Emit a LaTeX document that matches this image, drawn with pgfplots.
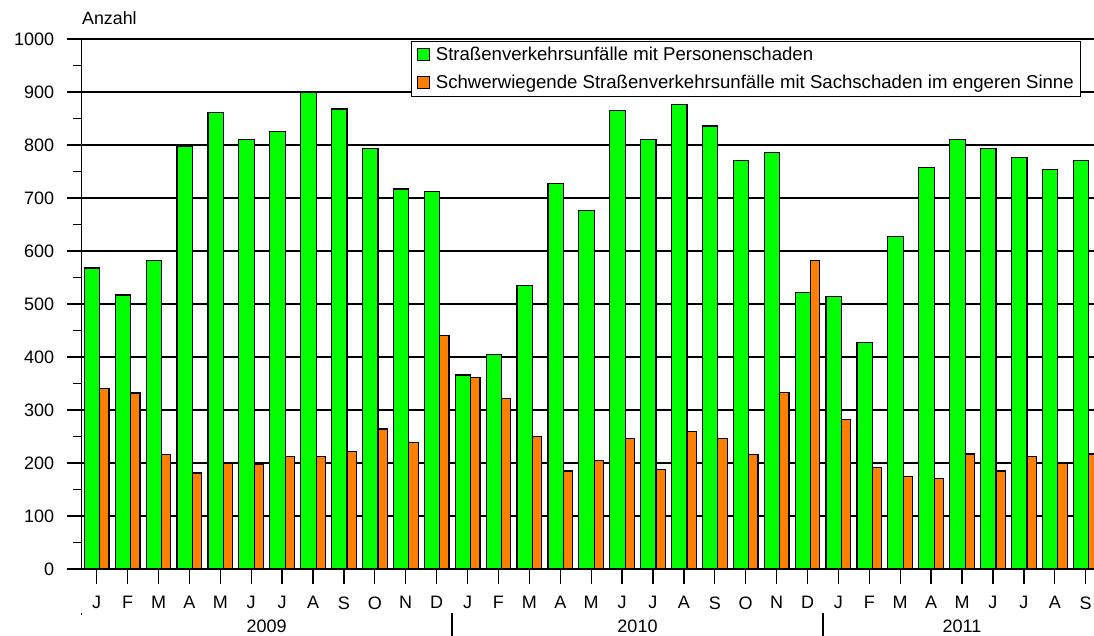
\documentclass[border=0pt]{standalone}
\usepackage{pgfplots}
\usepackage{pgfplotstable}
\pgfplotsset{compat=1.18}
\usepackage{fontspec}
\setmainfont{Liberation Sans}
\definecolor{mygreen}{RGB}{0,255,0}
\definecolor{myorange}{RGB}{255,128,0}
\pgfplotstableread{
x g o
0 568 340
1 517 332
2 582 216
3 797 181
4 862 199
5 810 197
6 825 213
7 900 213
8 868 221
9 793 264
10 717 239
11 713 441
12 366 362
13 405 321
14 535 250
15 728 185
16 677 205
17 865 246
18 811 188
19 876 260
20 836 246
21 771 216
22 786 333
23 521 582
24 514 282
25 427 192
26 627 175
27 757 171
28 811 217
29 793 185
30 776 212
31 754 199
32 771 217
}\data
\begin{document}
\begin{tikzpicture}[x=1pt,y=1pt]
\begin{axis}[
  at={(81.7pt,67pt)}, anchor=south west,
  scale only axis, width=1012.3pt, height=530pt,
  xmin=-0.485, xmax=32.27, ymin=0, ymax=1000,
  axis lines=left,
  axis line style={-, line width=1.5pt},
  ytick={0,100,...,1000},
  minor ytick={50,150,...,950},
  ymajorgrids,
  grid style={black, line width=1.3pt},
  tick align=outside,
  major tick length=15pt, minor tick length=9pt,
  tick style={black, line width=1.3pt},
  xtick={0,...,32},
  xticklabels={J,F,M,A,M,J,J,A,S,O,N,D,J,F,M,A,M,J,J,A,S,O,N,D,J,F,M,A,M,J,J,A,S},
  /pgf/number format/assume math mode=true,
  /pgf/number format/1000 sep={},
  yticklabel style={font=\fontsize{18}{21}\selectfont, xshift=-9pt},
  xticklabel style={font=\fontsize{18}{21}\selectfont, yshift=-9pt},
  legend style={at={(0.3253,0.997)}, anchor=north west, draw=black, line width=1.3pt,
    fill=white, font=\fontsize{18.6}{21}\selectfont, row sep=9pt, inner xsep=5pt, inner ysep=4pt},
  legend cell align=left,
]
\addplot[ybar, bar width=0.5, bar shift=-0.15, fill=mygreen, draw=black, line width=1.2pt,
  legend image code/.code={\draw[fill=mygreen,draw=black,line width=1.2pt] (0pt,-6pt) rectangle (12pt,6pt); \path (16pt,0pt);}]
  table[x=x,y=g]{\data};
\addplot[ybar, bar width=0.3, bar shift=0.25, fill=myorange, draw=black, line width=1.2pt,
  legend image code/.code={\draw[fill=myorange,draw=black,line width=1.2pt] (0pt,-6pt) rectangle (12pt,6pt); \path (16pt,0pt);}]
  table[x=x,y=o]{\data};
\legend{Straßenverkehrsunfälle mit Personenschaden, Schwerwiegende Straßenverkehrsunfälle mit Sachschaden im engeren Sinne}
\end{axis}
\pgfresetboundingbox
\useasboundingbox (0,0) rectangle (1094,636);
\node[anchor=base west, inner sep=0pt, font=\fontsize{17.8}{20}\selectfont] at (82,611) {Anzahl};
\node[anchor=base, inner sep=0pt, font=\fontsize{18}{20}\selectfont] at (266.6,3) {2009};
\node[anchor=base, inner sep=0pt, font=\fontsize{18}{20}\selectfont] at (637.5,3) {2010};
\node[anchor=base, inner sep=0pt, font=\fontsize{18}{20}\selectfont] at (961.9,3) {2011};
\draw[line width=1.3pt] (452.1,-2) -- (452.1,23);
\draw[line width=1.3pt] (822.9,-2) -- (822.9,23);
\draw[line width=1.3pt] (81.7,21) -- (81.7,23);
\end{tikzpicture}
\end{document}
